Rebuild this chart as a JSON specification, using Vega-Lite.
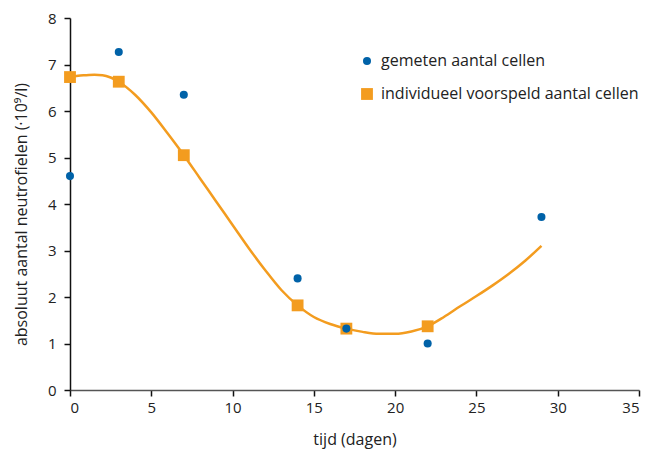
{
  "$schema": "https://vega.github.io/schema/vega-lite/v6.json",
  "autosize": "none",
  "width": 569,
  "height": 372,
  "padding": {"left": 70, "top": 18, "right": 13, "bottom": 63},
  "background": "white",
  "config": {
    "view": {"stroke": null},
    "font": "Open Sans",
    "axis": {"grid": false, "labelFont": "Open Sans", "titleFont": "Open Sans", "labelFontSize": 15, "titleFontSize": 16, "titleFontWeight": "normal", "labelColor": "#222", "titleColor": "#222", "tickColor": "#111", "domainColor": "#111", "tickSize": 6, "tickWidth": 1.5, "domainWidth": 1.5}
  },
  "datasets": {
    "pts": [
      {"t": 0, "y": 6.73, "series": "individueel voorspeld aantal cellen"},
      {"t": 3, "y": 6.63, "series": "individueel voorspeld aantal cellen"},
      {"t": 7, "y": 5.05, "series": "individueel voorspeld aantal cellen"},
      {"t": 14, "y": 1.82, "series": "individueel voorspeld aantal cellen"},
      {"t": 17, "y": 1.32, "series": "individueel voorspeld aantal cellen"},
      {"t": 22, "y": 1.37, "series": "individueel voorspeld aantal cellen"},
      {"t": 0, "y": 4.6, "series": "gemeten aantal cellen"},
      {"t": 3, "y": 7.27, "series": "gemeten aantal cellen"},
      {"t": 7, "y": 6.35, "series": "gemeten aantal cellen"},
      {"t": 14, "y": 2.4, "series": "gemeten aantal cellen"},
      {"t": 17, "y": 1.32, "series": "gemeten aantal cellen"},
      {"t": 22, "y": 1.0, "series": "gemeten aantal cellen"},
      {"t": 29, "y": 3.72, "series": "gemeten aantal cellen"}
    ],
    "curve": [
      {"t": 0, "y": 6.73}, {"t": 0.5, "y": 6.76}, {"t": 1, "y": 6.77}, {"t": 1.5, "y": 6.78},
      {"t": 2, "y": 6.77}, {"t": 2.5, "y": 6.72}, {"t": 3, "y": 6.63}, {"t": 4, "y": 6.35},
      {"t": 5, "y": 5.97}, {"t": 6, "y": 5.52}, {"t": 7, "y": 5.05}, {"t": 8, "y": 4.55},
      {"t": 9, "y": 4.05}, {"t": 10, "y": 3.55}, {"t": 11, "y": 3.05}, {"t": 12, "y": 2.58},
      {"t": 13, "y": 2.15}, {"t": 14, "y": 1.82}, {"t": 15, "y": 1.57}, {"t": 16, "y": 1.42},
      {"t": 17, "y": 1.32}, {"t": 18, "y": 1.25}, {"t": 19, "y": 1.21}, {"t": 20, "y": 1.21},
      {"t": 21, "y": 1.26}, {"t": 22, "y": 1.37}, {"t": 23, "y": 1.57}, {"t": 24, "y": 1.8},
      {"t": 25, "y": 2.02}, {"t": 26, "y": 2.25}, {"t": 27, "y": 2.5}, {"t": 28, "y": 2.78},
      {"t": 29, "y": 3.1}
    ]
  },
  "layer": [
    {
      "data": {"name": "curve"},
      "mark": {"type": "line", "interpolate": "monotone", "color": "#F39C1F", "strokeWidth": 2.5},
      "encoding": {
        "x": {"field": "t", "type": "quantitative", "scale": {"domain": [0, 35], "nice": false}, "axis": {"title": "tijd (dagen)", "values": [0, 5, 10, 15, 20, 25, 30, 35], "titlePadding": 16, "domainColor": "#555", "labelPadding": 4}},
        "y": {"field": "y", "type": "quantitative", "scale": {"domain": [0, 8], "nice": false}, "axis": {"title": "absoluut aantal neutrofielen (·10⁹/l)", "values": [0, 1, 2, 3, 4, 5, 6, 7, 8], "titlePadding": 18, "labelPadding": 8, "titleY": 196}}
      }
    },
    {
      "data": {"name": "pts"},
      "mark": {"type": "point", "filled": true, "opacity": 1},
      "encoding": {
        "x": {"field": "t", "type": "quantitative"},
        "y": {"field": "y", "type": "quantitative"},
        "color": {"field": "series", "type": "nominal", "scale": {"domain": ["gemeten aantal cellen", "individueel voorspeld aantal cellen"], "range": ["#0062A8", "#F39C1F"]}, "legend": {"title": null, "orient": "none", "legendX": 289, "legendY": 35, "labelFontSize": 16, "labelFont": "Open Sans", "labelColor": "#222", "labelLimit": 0, "rowPadding": 17, "symbolSize": 90, "labelOffset": 6}},
        "shape": {"field": "series", "type": "nominal", "scale": {"domain": ["gemeten aantal cellen", "individueel voorspeld aantal cellen"], "range": ["circle", "square"]}, "legend": null},
        "size": {"field": "series", "type": "nominal", "scale": {"domain": ["gemeten aantal cellen", "individueel voorspeld aantal cellen"], "range": [65, 140]}, "legend": null}
      }
    }
  ]
}
